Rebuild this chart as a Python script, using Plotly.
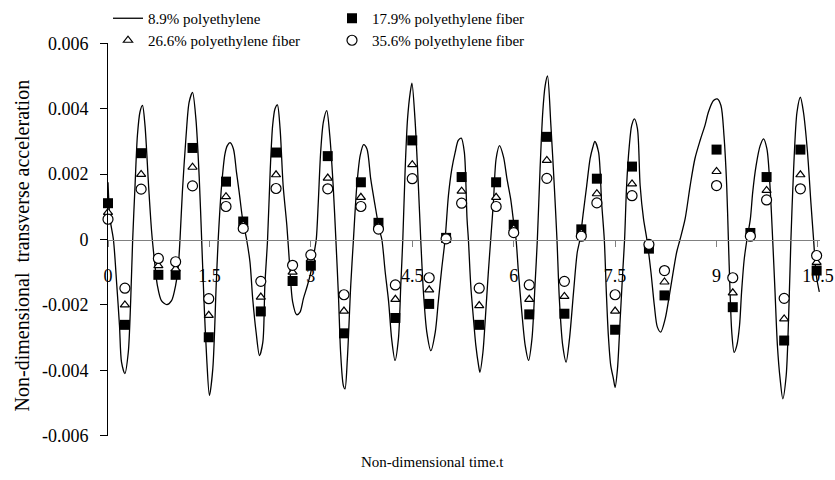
import plotly.graph_objects as go

# ---- data ----
t_line = [0.00, 0.03, 0.08, 0.13, 0.17, 0.20, 0.25, 0.30, 0.335, 0.365, 0.40, 0.435, 0.473, 0.51, 0.547,
          0.60, 0.646, 0.695, 0.73, 0.79, 0.87, 0.94, 1.00, 1.04, 1.065, 1.10, 1.155, 1.20, 1.25, 1.30,
          1.35, 1.385, 1.42, 1.46, 1.50, 1.55, 1.60, 1.63, 1.68, 1.73, 1.765, 1.805, 1.855, 1.90, 1.94,
          1.99, 2.05, 2.10, 2.14, 2.19, 2.24, 2.29, 2.32, 2.36, 2.40, 2.435, 2.47, 2.505, 2.545, 2.59,
          2.645, 2.69, 2.73, 2.79, 2.84, 2.89, 2.95, 3.00, 3.05, 3.08, 3.11, 3.145, 3.185, 3.235, 3.28,
          3.33, 3.37, 3.41, 3.44, 3.48, 3.505, 3.54, 3.59, 3.63, 3.68, 3.73, 3.78, 3.83, 3.885, 3.95,
          4.01, 4.05, 4.10, 4.15, 4.195, 4.245, 4.295, 4.33, 4.36, 4.395, 4.43, 4.47, 4.495, 4.54, 4.59,
          4.625, 4.665, 4.715, 4.775, 4.84, 4.885, 4.935, 4.985, 5.035, 5.085, 5.135, 5.18, 5.225, 5.27,
          5.31, 5.33, 5.365, 5.405, 5.44, 5.48, 5.50, 5.545, 5.58, 5.625, 5.66, 5.70, 5.74, 5.79, 5.85,
          5.90, 5.955, 6.005, 6.035, 6.07, 6.12, 6.17, 6.22, 6.27, 6.315, 6.35, 6.39, 6.43, 6.465, 6.50,
          6.55, 6.60, 6.64, 6.675, 6.725, 6.775, 6.825, 6.885, 6.94, 6.98, 7.03, 7.08, 7.13, 7.17, 7.20,
          7.255, 7.30, 7.34, 7.37, 7.40, 7.435, 7.475, 7.50, 7.535, 7.575, 7.615, 7.64, 7.67, 7.71, 7.745,
          7.785, 7.83, 7.87, 7.92, 7.97, 8.03, 8.08, 8.125, 8.175, 8.24, 8.31, 8.41, 8.46, 8.535, 8.61,
          8.68, 8.76, 8.83, 8.88, 8.955, 9.01, 9.065, 9.11, 9.15, 9.175, 9.20, 9.225, 9.26, 9.30, 9.34,
          9.37, 9.41, 9.45, 9.50, 9.535, 9.585, 9.645, 9.695, 9.745, 9.79, 9.83, 9.865, 9.90, 9.94, 9.98,
          10.03, 10.065, 10.10, 10.14, 10.19, 10.24, 10.285, 10.345, 10.395, 10.435, 10.475, 10.52]
a_line_89 = [0.00175, 0.00063, 0.0, -0.0014, -0.00263, -0.00375, -0.0041, -0.00345, -0.0019, 0.0, 0.00165,
             0.00318, 0.0039, 0.0041, 0.00349, 0.00165, 0.00022, -0.0008, -0.0014, -0.00187, -0.00199,
             -0.00187, -0.0014, -0.0008, 0.0, 0.00145, 0.00318, 0.0042, 0.0045, 0.00369, 0.00186, 0.0,
             -0.0019, -0.00365, -0.00477, -0.00395, -0.0014, 0.0, 0.00165, 0.00262, 0.00287, 0.00296,
             0.00277, 0.00206, 0.00145, 0.00063, 0.0, -0.00069, -0.00181, -0.00283, -0.00355, -0.00314,
             -0.0014, 0.0, 0.00216, 0.00349, 0.004, 0.00412, 0.00339, 0.00165, 0.00043, -0.0009, -0.0019,
             -0.0023, -0.00222, -0.00181, -0.0014, -0.001, -0.00039, 0.0, 0.00114, 0.00267, 0.00359,
             0.00394, 0.00318, 0.00165, 0.0, -0.00181, -0.00345, -0.00446, -0.00457, -0.00365, -0.0014,
             0.0, 0.00165, 0.00257, 0.0029, 0.00277, 0.00186, 0.00104, 0.00033, 0.0, -0.001, -0.0019,
             -0.00304, -0.0037, -0.00304, -0.0014, 0.0, 0.00216, 0.00369, 0.0045, 0.00478, 0.00369,
             0.00165, 0.0, -0.00161, -0.00283, -0.0034, -0.00283, -0.0019, -0.0009, 0.0, 0.00135,
             0.00216, 0.00267, 0.00303, 0.0031, 0.00267, 0.00063, 0.0, -0.0014, -0.00243, -0.00324,
             -0.00385, -0.00406, -0.00345, -0.00243, -0.001, 0.0, 0.00114, 0.00247, 0.00287, 0.00252,
             0.00186, 0.00124, 0.00043, 0.0, -0.001, -0.00222, -0.00324, -0.0037, -0.00304, -0.0014, 0.0,
             0.00216, 0.0039, 0.0047, 0.005, 0.00349, 0.00165, 0.0, -0.00181, -0.00324, -0.00375,
             -0.00304, -0.00161, -0.00039, 0.0, 0.00083, 0.00165, 0.00247, 0.00282, 0.003, 0.00267,
             0.00114, 0.0, -0.00161, -0.00294, -0.00385, -0.00426, -0.00452, -0.00395, -0.00243, -0.0009,
             0.0, 0.00165, 0.00287, 0.00349, 0.00369, 0.00339, 0.00165, 0.00063, 0.0, -0.001, -0.00202,
             -0.00268, -0.00283, -0.00243, -0.00161, -0.00039, 0.0, 0.00063, 0.00165, 0.00247, 0.00305,
             0.0035, 0.0039, 0.00425, 0.0043, 0.0041, 0.00318, 0.00165, 0.0, -0.00161, -0.00283, -0.00345,
             -0.00324, -0.00263, -0.00161, -0.00059, 0.0, 0.00063, 0.00145, 0.00226, 0.00287, 0.00308,
             0.00277, 0.00165, 0.0, -0.00161, -0.00324, -0.00426, -0.00487, -0.00416, -0.00243, 0.0,
             0.00216, 0.0039, 0.00435, 0.0039, 0.00267, 0.00114, 0.0, -0.0011, -0.0016]

t_pts = [0.0, 0.25, 0.49, 0.745, 1.0, 1.25, 1.49, 1.745, 2.0, 2.26, 2.485, 2.73, 3.0, 3.25, 3.49, 3.74,
         4.0, 4.25, 4.5, 4.75, 5.0, 5.23, 5.49, 5.74, 6.0, 6.23, 6.49, 6.75, 7.0, 7.23, 7.5, 7.75, 8.0,
         8.23, 9.0, 9.24, 9.5, 9.74, 10.0, 10.24, 10.48]
a_179 = [0.00111, -0.00261, 0.00264, -0.00108, -0.00108, 0.0028, -0.00299, 0.00177, 0.00055, -0.0022,
         0.00266, -0.00127, -0.0008, 0.00255, -0.00287, 0.00175, 0.00051, -0.0024, 0.00303, -0.00197,
         0.00005, 0.00191, -0.00261, 0.00175, 0.00045, -0.00229, 0.00314, -0.00227, 0.00031, 0.00186,
         -0.00276, 0.00223, -0.00028, -0.00171, 0.00275, -0.00207, 0.0002, 0.00191, -0.00309, 0.00275,
         -0.00095]
a_266 = [0.00083, -0.0020, 0.00199, -0.0008, -0.0009, 0.00221, -0.00232, 0.00131, 0.00045, -0.00176,
         0.00198, -0.001, -0.0006, 0.00188, -0.00219, 0.00129, 0.0004, -0.00183, 0.00229, -0.00154,
         0.00003, 0.00148, -0.00202, 0.00129, 0.00033, -0.00183, 0.00242, -0.00174, 0.0002, 0.0014,
         -0.00219, 0.0017, -0.0002, -0.0013, 0.00208, -0.00163, 0.00015, 0.0015, -0.00243, 0.00198,
         -0.0007]
a_356 = [0.00062, -0.00149, 0.00154, -0.00058, -0.00068, 0.00164, -0.00181, 0.00101, 0.00034, -0.00128,
         0.00156, -0.00079, -0.00047, 0.00155, -0.00169, 0.00101, 0.00032, -0.00139, 0.00186, -0.00117,
         0.00002, 0.00111, -0.00149, 0.00101, 0.00021, -0.00139, 0.00187, -0.00128, 0.0001, 0.00112,
         -0.00169, 0.00134, -0.00015, -0.00095, 0.00165, -0.00117, 0.0001, 0.00121, -0.0018, 0.00155,
         -0.00049]

x_ticks = [0, 1.5, 3, 4.5, 6, 7.5, 9, 10.5]
x_ticktext = ["0", "1.5", "3", "4.5", "6", "7.5", "9", "10.5"]
y_ticks = [0.006, 0.004, 0.002, 0, -0.002, -0.004, -0.006]
y_ticktext = ["0.006", "0.004", "0.002", "0", "-0.002", "-0.004", "-0.006"]

FONT = "Liberation Serif, Times New Roman, serif"

fig = go.Figure()
fig.add_trace(go.Scatter(x=t_line, y=a_line_89, mode="lines", name="8.9% polyethylene",
                         line=dict(color="black", width=1.3, shape="spline", smoothing=0.8),
                         cliponaxis=False, legend="legend"))
fig.add_trace(go.Scatter(x=t_pts, y=a_179, mode="markers", name="17.9% polyethylene fiber",
                         marker=dict(symbol="square", size=10, color="black"),
                         cliponaxis=False, legend="legend2"))
fig.add_trace(go.Scatter(x=t_pts, y=a_266, mode="markers", name="26.6% polyethylene fiber",
                         marker=dict(symbol="triangle-up", size=8, color="white",
                                     line=dict(color="black", width=1.2)),
                         cliponaxis=False, legend="legend3"))
fig.add_trace(go.Scatter(x=t_pts, y=a_356, mode="markers", name="35.6% polyethylene fiber",
                         marker=dict(symbol="circle", size=10, color="white",
                                     line=dict(color="black", width=1.2)),
                         cliponaxis=False, legend="legend4"))


def leg(xpx, ytop):
    return dict(xref="container", yref="container", x=xpx / 835, y=1 - ytop / 480,
                xanchor="left", yanchor="top", bgcolor="rgba(0,0,0,0)",
                font=dict(family=FONT, size=15))


fig.update_layout(
    width=835, height=480,
    margin=dict(l=108, r=15, t=43, b=44, autoexpand=False),
    paper_bgcolor="white", plot_bgcolor="white",
    font=dict(family=FONT, size=18, color="black"),
    showlegend=True,
    legend=leg(108, 2),
    legend2=leg(332, 2),
    legend3=leg(108, 24),
    legend4=leg(332, 24),
    xaxis=dict(range=[0, 10.53], anchor="free", position=0.5,
               showline=True, linecolor="#808080", linewidth=1,
               ticks="outside", ticklen=6, tickcolor="#808080", tickwidth=1,
               tickvals=x_ticks, ticktext=x_ticktext, ticklabelstandoff=14,
               showgrid=False, zeroline=False,
               tickfont=dict(family=FONT, size=18)),
    yaxis=dict(range=[-0.00601, 0.00601], showline=True, linecolor="black", linewidth=1,
               ticks="outside", ticklen=7, tickcolor="black",
               tickvals=y_ticks, ticktext=y_ticktext, ticklabelstandoff=8,
               showgrid=False, zeroline=False,
               tickfont=dict(family=FONT, size=18)),
    annotations=[
        dict(text="Non-dimensional  transverse acceleration", xref="paper", yref="paper",
             x=(22 - 108) / 712, y=0.485, textangle=-90, showarrow=False,
             xanchor="center", yanchor="middle", font=dict(family=FONT, size=20)),
        dict(text="Non-dimensional time.t", xref="paper", yref="paper",
             x=(432 - 108) / 712, y=(436 - 462) / 393, showarrow=False,
             xanchor="center", yanchor="middle", font=dict(family=FONT, size=15)),
    ],
)

fig.write_html("out.html")
